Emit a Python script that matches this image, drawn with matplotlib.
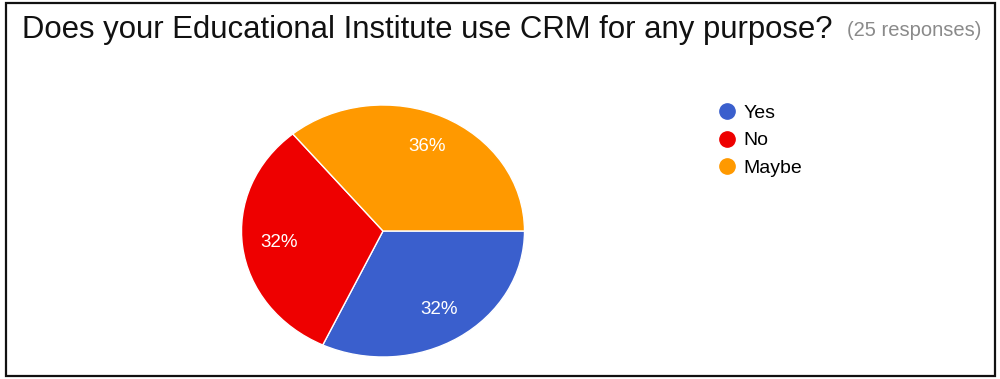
import matplotlib
matplotlib.use("Agg")
import matplotlib.pyplot as plt
from matplotlib.lines import Line2D
from matplotlib.patches import Rectangle

title = "Does your Educational Institute use CRM for any purpose?"
subtitle = "(25 responses)"
categories = ["Yes", "No", "Maybe"]
shares = [32, 32, 36]
colors = ["#3a5fcd", "#ee0000", "#ff9900"]

W, H = 1000, 379
fig = plt.figure(figsize=(W / 100, H / 100), dpi=100)
fig.patch.set_facecolor("white")
FONT = ["Liberation Sans", "DejaVu Sans"]

# outer frame
fig.add_artist(Rectangle((6 / W, 3 / H), 989 / W, 373 / H, transform=fig.transFigure,
                         fill=False, edgecolor="#111111", linewidth=1.6))

fig.text(22 / W, 1 - 38 / H, title, fontsize=22.4, family=FONT,
         color="#111111", va="baseline", ha="left")
fig.text(847 / W, 1 - 36 / H, subtitle, fontsize=14.5, family=FONT,
         color="#8a8a8a", va="baseline", ha="left")

# pie drawn in an axes whose aspect stretches it into an ellipse
left, right, top, bottom = 241.5, 524.5, 105, 357
ax = fig.add_axes([left / W, 1 - bottom / H, (right - left) / W, (bottom - top) / H])
ax.pie(shares, colors=colors, startangle=0, counterclock=False,
       autopct=lambda p: f"{p:.0f}%", pctdistance=0.74, radius=1,
       wedgeprops=dict(edgecolor="white", linewidth=1.0),
       textprops=dict(color="white", fontsize=13.5, family=FONT))
ax.set_xlim(-1, 1)
ax.set_ylim(-1, 1)
ax.set_aspect("auto")
ax.axis("off")

handles = [Line2D([], [], marker="o", linestyle="none", markersize=11,
                  markerfacecolor=c, markeredgecolor=c) for c in colors]
fig.legend(handles, categories, loc="upper left",
           bbox_to_anchor=(717 / W, 1 - 104 / H), frameon=False,
           prop=dict(family=FONT, size=14),
           handletextpad=0.35, labelspacing=0.52, handlelength=1.0,
           borderaxespad=0, borderpad=0)

fig.savefig("out.png", dpi=100, facecolor="white")
